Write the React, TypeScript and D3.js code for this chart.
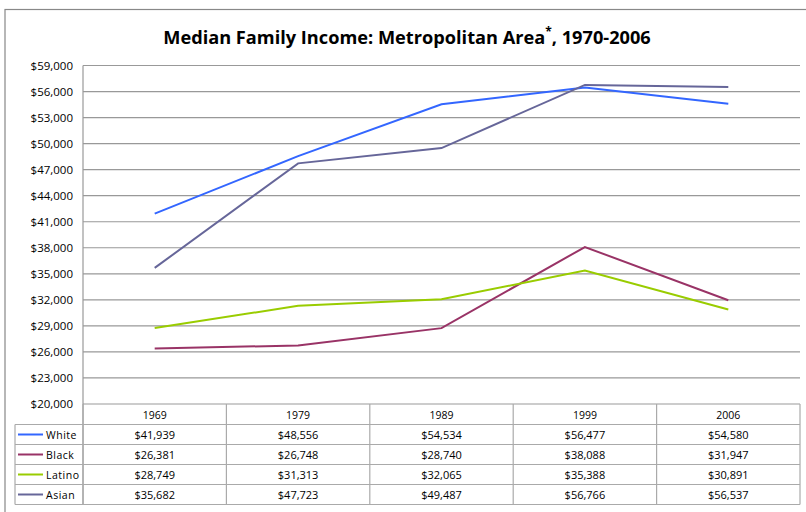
import React from 'react';
import * as d3 from 'd3';

const years = ['1969', '1979', '1989', '1999', '2006'];
const seriesNames = ['White', 'Black', 'Latino', 'Asian'];
const white = [41939, 48556, 54534, 56477, 54580];
const black = [26381, 26748, 28740, 38088, 31947];
const latino = [28749, 31313, 32065, 35388, 30891];
const asian = [35682, 47723, 49487, 56766, 56537];
const yTicks = [20000, 23000, 26000, 29000, 32000, 35000, 38000, 41000, 44000, 47000, 50000, 53000, 56000, 59000];
const colors = ['#3366ff', '#993366', '#99cc00', '#666699'];

const allValues = [white, black, latino, asian];

export default function App() {
  const left = 83;
  const right = 800;
  const top = 65.5;
  const bottom = 404;
  const headerH = 20.5;
  const rowH = 20;
  const legendLeft = 15;

  const x = d3.scaleBand().domain(years).range([left, right]);
  const y = d3.scaleLinear().domain([20000, 59000]).range([bottom, top]);
  const fmt = d3.format('$,');
  const line = d3.line<number>()
    .x((_, i) => x(years[i])! + x.bandwidth() / 2)
    .y(d => y(d));

  const tableTop = bottom;
  const rowsTop = tableTop + headerH;
  const tableBottom = rowsTop + rowH * seriesNames.length;
  const font = 'Open Sans, sans-serif';

  return (
    <svg width={806} height={512} style={{ position: 'absolute', left: 0, top: 0 }}>
      <rect x={0} y={0} width={806} height={512} fill="#fff" />
      <rect x={5} y={9.5} width={840} height={560} fill="none" stroke="#888" strokeWidth={1.2} />
      <text x={407} y={44} textAnchor="middle" fontFamily={font} fontWeight="bold" fontSize={18.2} fill="#000">
        Median Family Income: Metropolitan Area
        <tspan dy={-8} fontSize={12}>*</tspan>
        <tspan dy={8}>, 1970-2006</tspan>
      </text>

      {yTicks.map(t => (
        <g key={t}>
          <line x1={left} x2={right} y1={y(t)} y2={y(t)} stroke="#999" strokeWidth={1.2} />
          <text x={73} y={y(t) + 4} textAnchor="end" fontFamily={font} fontSize={11.5} fill="#000">
            {fmt(t)}
          </text>
        </g>
      ))}
      <line x1={left} x2={left} y1={top} y2={tableBottom} stroke="#999" strokeWidth={1.2} />

      {allValues.map((vals, i) => (
        <path key={seriesNames[i]} d={line(vals)!} fill="none" stroke={colors[i]} strokeWidth={2} />
      ))}

      {/* data table */}
      <line x1={right} x2={right} y1={tableTop} y2={tableBottom} stroke="#aaa" strokeWidth={1.2} />
      {years.map(yr => (
        <g key={yr}>
          <line x1={x(yr)!} x2={x(yr)!} y1={tableTop} y2={tableBottom} stroke="#aaa" strokeWidth={1.2} />
          <text x={x(yr)! + x.bandwidth() / 2} y={tableTop + 15} textAnchor="middle" fontFamily={font} fontSize={10.5} fill="#000">
            {yr}
          </text>
        </g>
      ))}
      <line x1={legendLeft} x2={legendLeft} y1={rowsTop} y2={tableBottom} stroke="#aaa" strokeWidth={1.2} />
      {seriesNames.map((name, i) => {
        const ry = rowsTop + i * rowH;
        return (
          <g key={name}>
            <line x1={legendLeft} x2={right} y1={ry} y2={ry} stroke="#aaa" strokeWidth={1.2} />
            <line x1={18} x2={43} y1={ry + rowH / 2} y2={ry + rowH / 2} stroke={colors[i]} strokeWidth={2} />
            <text x={46} y={ry + 14} fontFamily={font} fontSize={10.5} letterSpacing={0.5} fill="#000">{name}</text>
            {allValues[i].map((v, j) => (
              <text key={j} x={x(years[j])! + x.bandwidth() / 2} y={ry + 14} textAnchor="middle" fontFamily={font} fontSize={11} fill="#000">
                {fmt(v)}
              </text>
            ))}
          </g>
        );
      })}
      <line x1={legendLeft} x2={right} y1={tableBottom} y2={tableBottom} stroke="#aaa" strokeWidth={1.2} />
    </svg>
  );
}
